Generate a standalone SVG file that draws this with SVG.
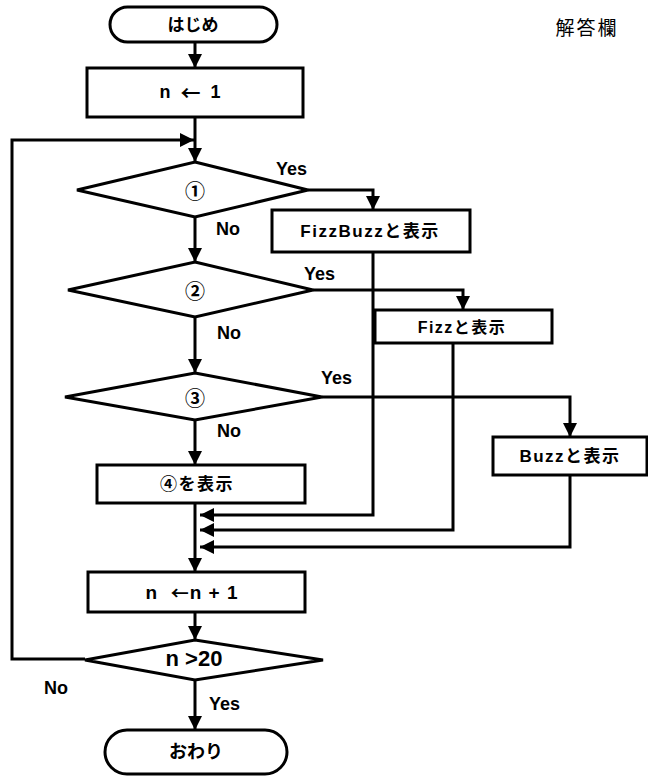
<svg xmlns="http://www.w3.org/2000/svg" width="648" height="778" viewBox="0 0 648 778">
<style>
.shape{fill:#fff;stroke:#000;stroke-width:3}
.t{font-family:"Liberation Sans","Noto Sans CJK JP",sans-serif;font-weight:bold;font-size:16px;fill:#000;text-anchor:middle;dominant-baseline:central}
.lbl{font-family:"Liberation Sans","Noto Sans CJK JP",sans-serif;font-weight:bold;font-size:18px;fill:#000}
.c{font-family:"Noto Sans CJK JP",sans-serif;font-weight:bold;font-size:20px;fill:#000;text-anchor:middle;dominant-baseline:central}
.arr{font-family:"Noto Sans CJK JP",sans-serif;font-weight:bold;font-size:20px}
.conn{fill:none;stroke:#000;stroke-width:3;marker-end:url(#ah)}
</style>
<defs>
<marker id="ah" markerWidth="14" markerHeight="14" refX="14" refY="7" orient="auto" markerUnits="userSpaceOnUse">
<path d="M0,0 L14,7 L0,14 z" fill="#000"/>
</marker>
</defs>
<rect width="648" height="778" fill="#fff"/>
<text x="587" y="26" font-family="Noto Sans CJK JP, sans-serif" font-size="19" text-anchor="middle" dominant-baseline="central" letter-spacing="2">解答欄</text>

<g id="connectors">
<path class="conn" d="M195,42 V68"/>
<path class="conn" d="M195,117 V162"/>
<path class="conn" d="M85,659 H12 V140 H194"/>
<path class="conn" d="M195,217 V262"/>
<path class="conn" d="M308,190 H373 V210"/>
<path class="conn" d="M195,317 V373"/>
<path class="conn" d="M313,290 H463 V310"/>
<path class="conn" d="M195,420 V465"/>
<path class="conn" d="M322,397 H570 V437"/>
<path class="conn" d="M195,503 V572"/>
<path class="conn" d="M373,252 V515 H200"/>
<path class="conn" d="M453,343 V530 H200"/>
<path class="conn" d="M570,475 V547 H200"/>
<path class="conn" d="M195,612 V640"/>
<path class="conn" d="M195,680 V730"/>
<text class="lbl" x="276" y="175">Yes</text>
<text class="lbl" x="216" y="235">No</text>
<text class="lbl" x="304" y="280">Yes</text>
<text class="lbl" x="217" y="339">No</text>
<text class="lbl" x="321" y="384">Yes</text>
<text class="lbl" x="217" y="437">No</text>
<text class="lbl" x="44" y="694">No</text>
<text class="lbl" x="209" y="710">Yes</text>
</g>

<g id="start">
<rect class="shape" x="110" y="7" width="167" height="35" rx="17.5"/>
<text class="t" x="193" y="25" style="font-size:17px">はじめ</text>
</g>
<g id="init">
<rect class="shape" x="87" y="68" width="216" height="49"/>
<text class="t" x="190" y="92" style="font-size:18px" xml:space="preserve">n  <tspan class="arr">←</tspan>  1</text>
</g>
<g id="cond1">
<polygon class="shape" points="195,162 308,190 195,217 77,190"/>
<text class="c" x="195" y="190">①</text>
</g>
<g id="fizzbuzz">
<rect class="shape" x="272" y="210" width="198" height="42"/>
<text class="t" x="370" y="231" style="font-size:17px" letter-spacing="1.5">FizzBuzzと表示</text>
</g>
<g id="cond2">
<polygon class="shape" points="195,262 313,290 195,317 68,290"/>
<text class="c" x="195" y="290">②</text>
</g>
<g id="fizz">
<rect class="shape" x="375" y="310" width="177" height="33"/>
<text class="t" x="462" y="327" letter-spacing="1.5">Fizzと表示</text>
</g>
<g id="cond3">
<polygon class="shape" points="195,373 322,397 195,420 65,397"/>
<text class="c" x="195" y="397">③</text>
</g>
<g id="buzz">
<rect class="shape" x="493" y="437" width="154" height="38"/>
<text class="t" x="570" y="456" style="font-size:17px" letter-spacing="1.5">Buzzと表示</text>
</g>
<g id="print4">
<rect class="shape" x="97" y="465" width="208" height="38"/>
<text class="t" x="197" y="484" style="font-size:17px" letter-spacing="1.5">④を表示</text>
</g>
<g id="incr">
<rect class="shape" x="88" y="572" width="217" height="40"/>
<text class="t" x="192" y="592" style="font-size:19px" letter-spacing="1" xml:space="preserve">n  <tspan class="arr" style="font-size:18px">←</tspan>n + 1</text>
</g>
<g id="cond5">
<polygon class="shape" points="195,640 323,660 195,680 85,660"/>
<text class="t" x="194" y="658" style="font-size:22px">n &gt;20</text>
</g>
<g id="end">
<rect class="shape" x="105" y="730" width="182" height="44" rx="22"/>
<text class="t" x="196" y="752" style="font-size:18px">おわり</text>
</g>
</svg>
